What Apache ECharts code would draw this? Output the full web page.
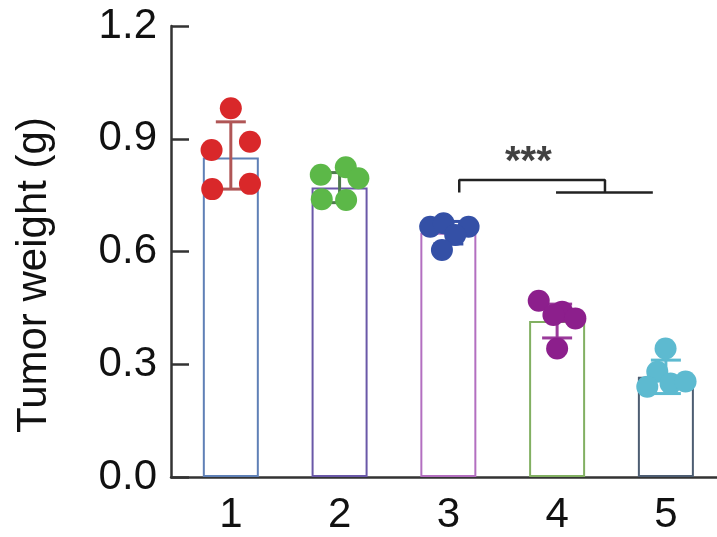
<!DOCTYPE html>
<html>
<head>
<meta charset="utf-8">
<script src="https://cdn.jsdelivr.net/npm/echarts@6/dist/echarts.min.js"></script>
<style>
html,body{margin:0;padding:0;background:#fff;}
#main{width:717px;height:537px;}
</style>
</head>
<body>
<div id="main"></div>
<script>
// group labels and bar heights (means)
var groups = [1, 2, 3, 4, 5];
var means = [0.85, 0.77, 0.65, 0.415, 0.267];
var errLow = [0.766, 0.73, 0.62, 0.37, 0.222];
var errHigh = [0.945, 0.81, 0.68, 0.46, 0.311];

// individual points (x jitter in axis units, y values)
var dotsX = [
    [1.0, 0.823, 1.176, 0.829, 1.176],
    [1.827, 2.057, 2.173, 1.836, 2.06],
    [2.833, 2.956, 3.186, 3.063, 2.941],
    [3.831, 4.046, 4.168, 3.966, 4.0],
    [4.997, 4.921, 4.829, 5.043, 5.181]
];
var dotsY = [
    [0.981, 0.87, 0.892, 0.766, 0.78],
    [0.804, 0.824, 0.795, 0.739, 0.737],
    [0.666, 0.675, 0.666, 0.644, 0.604],
    [0.469, 0.44, 0.422, 0.431, 0.342],
    [0.342, 0.28, 0.24, 0.249, 0.254]
];
var yTicks = [0, 0.3, 0.6, 0.9, 1.2];

// significance bracket 3 vs 4/5
var bracketA = [[3.1, 0.757], [3.1, 0.79], [4.44, 0.79], [4.44, 0.757]];
var bracketB = [[3.99, 0.757], [4.88, 0.757]];
var starPos = [3.736, 0.835];

var barColors = ['#5f80b6', '#6a58a8', '#b36fc0', '#82b062', '#4d5d72'];
var dotColors = ['#d9282a', '#5cb848', '#3450a6', '#8c1f8c', '#5dbad0'];
var errColors = ['#b05656', '#4f7a4f', '#3450a6', '#9a3a9a', '#5dbad0'];

var chart = echarts.init(document.getElementById('main'));

var barData = [];
for (var i = 0; i < groups.length; i++) {
    barData.push({
        value: [groups[i], means[i]],
        itemStyle: {color: 'rgba(255,255,255,0)', borderColor: barColors[i], borderWidth: 2}
    });
}
var errData = [];
for (var i = 0; i < groups.length; i++) {
    errData.push([groups[i], errLow[i], errHigh[i]]);
}
var series = [
    {
        type: 'bar',
        data: barData,
        barWidth: 56,
        z: 1
    },
    {
        type: 'custom',
        z: 2,
        data: errData,
        renderItem: function (params, api) {
            var x = api.value(0);
            var lo = api.coord([x, api.value(1)]);
            var hi = api.coord([x, api.value(2)]);
            var st = {stroke: errColors[params.dataIndex], lineWidth: 3};
            return {
                type: 'group',
                children: [
                    {type: 'line', shape: {x1: lo[0], y1: lo[1], x2: hi[0], y2: hi[1]}, style: st},
                    {type: 'line', shape: {x1: lo[0] - 15, y1: lo[1], x2: lo[0] + 15, y2: lo[1]}, style: st},
                    {type: 'line', shape: {x1: hi[0] - 15, y1: hi[1], x2: hi[0] + 15, y2: hi[1]}, style: st}
                ]
            };
        }
    }
];
for (var g = 0; g < groups.length; g++) {
    var pts = [];
    for (var k = 0; k < dotsX[g].length; k++) pts.push([dotsX[g][k], dotsY[g][k]]);
    series.push({
        type: 'scatter',
        z: 3,
        data: pts,
        symbolSize: 22,
        itemStyle: {color: dotColors[g], opacity: 1}
    });
}
series.push({
    type: 'line', z: 4, data: bracketA, symbol: 'none',
    lineStyle: {color: '#222', width: 2.5}
});
series.push({
    type: 'line', z: 4, data: bracketB, symbol: 'none',
    lineStyle: {color: '#222', width: 2.5}
});
series.push({
    type: 'scatter', z: 4, data: [starPos], symbolSize: 0,
    label: {
        show: true, position: 'inside', formatter: '***',
        fontSize: 40, fontWeight: 'bold', color: '#111',
        fontFamily: 'Liberation Sans'
    }
});

var option = {
    animation: false,
    backgroundColor: '#fff',
    grid: {left: 171, right: 0, top: 26, bottom: 60},
    xAxis: {
        type: 'value',
        min: 0.45,
        max: 5.47,
        splitLine: {show: false},
        axisTick: {show: false},
        axisLine: {lineStyle: {color: '#333', width: 2.5}},
        axisLabel: {
            customValues: groups,
            formatter: function (v) { return String(v); },
            fontSize: 42, color: '#111', margin: 17,
            fontFamily: 'Liberation Sans'
        }
    },
    yAxis: {
        type: 'value',
        min: 0,
        max: 1.2,
        interval: 0.3,
        splitLine: {show: false},
        axisLine: {show: true, lineStyle: {color: '#333', width: 2.5}},
        axisTick: {show: true, inside: true, length: 18, lineStyle: {color: '#333', width: 2.5}},
        axisLabel: {
            formatter: function (v) { return v.toFixed(1); },
            fontSize: 42, color: '#111', margin: 14,
            fontFamily: 'Liberation Sans'
        }
    },
    graphic: [{
        type: 'text',
        x: 34, y: 275,
        rotation: Math.PI / 2,
        style: {
            text: 'Tumor weight (g)',
            fontSize: 42, fill: '#111',
            fontFamily: 'Liberation Sans',
            textAlign: 'center', textVerticalAlign: 'middle'
        }
    }],
    series: series
};
chart.setOption(option);
</script>
</body>
</html>
